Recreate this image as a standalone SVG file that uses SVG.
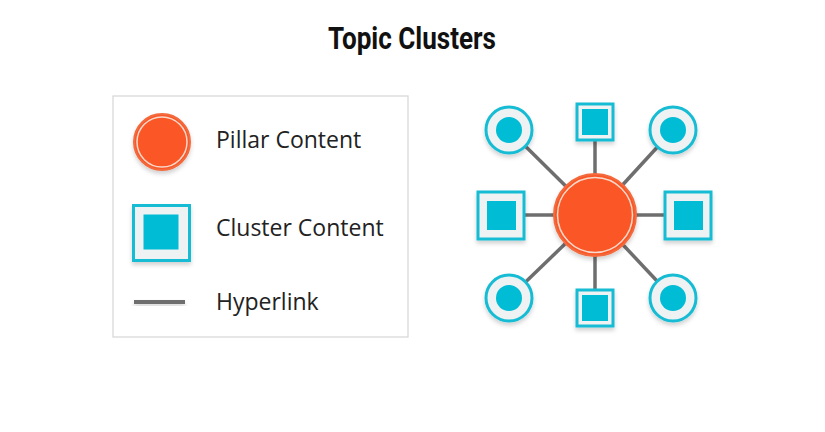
<svg xmlns="http://www.w3.org/2000/svg" width="825" height="432" viewBox="0 0 825 432">
<style>
.title{font-family:Roboto,"Liberation Sans",sans-serif;font-weight:bold;font-size:32px;fill:#111}
.lbl{font-family:"Open Sans","Noto Sans",sans-serif;font-size:23px;fill:#222}
.pillar{fill:#FA5726;stroke:#F26A3E;stroke-width:2}
.ring{fill:none;stroke:#F7D9CC;stroke-width:1.5}
.cout{fill:#EEF2F3;stroke:#18BCD3;stroke-width:3}
.cin{fill:#00BCD4}
.link{stroke:#6E6E6E;stroke-width:3.5}
</style>
<defs>
<filter id="sh" x="-30%" y="-30%" width="160%" height="170%">
<feDropShadow dx="0" dy="3" stdDeviation="2" flood-color="#000" flood-opacity="0.18"/>
</filter>
</defs>
<rect width="825" height="432" fill="#fff"/>
<text class="title" x="412" y="49" text-anchor="middle" textLength="168" lengthAdjust="spacingAndGlyphs">Topic Clusters</text>

<g id="legend">
<rect x="113" y="96" width="295" height="241" fill="#fff" stroke="#D6D6D6" stroke-width="1.2"/>
<g id="legend-pillar" filter="url(#sh)">
<circle class="pillar" cx="162" cy="142" r="28"/>
<circle class="ring" cx="162" cy="142" r="25"/>
</g>
<text class="lbl" x="216" y="148">Pillar Content</text>
<g id="legend-cluster" filter="url(#sh)">
<rect class="cout" x="133.5" y="205.5" width="56" height="55"/>
<rect class="cin" x="143.5" y="214.5" width="35" height="35"/>
</g>
<text class="lbl" x="216" y="236">Cluster Content</text>
<rect id="legend-link" x="134" y="300" width="51" height="4" fill="#6E6E6E" filter="url(#sh)"/>
<text class="lbl" x="216" y="310">Hyperlink</text>
</g>

<g id="connectors">
<line class="link" x1="595" y1="215" x2="509" y2="130"/>
<line class="link" x1="595" y1="215" x2="673" y2="130"/>
<line class="link" x1="595" y1="215" x2="509" y2="298"/>
<line class="link" x1="595" y1="215" x2="673" y2="298"/>
<line class="link" x1="595" y1="215" x2="595" y2="122"/>
<line class="link" x1="595" y1="215" x2="595" y2="308"/>
<line class="link" x1="595" y1="215" x2="501" y2="215"/>
<line class="link" x1="595" y1="215" x2="688" y2="215"/>
</g>

<g id="n-tl" filter="url(#sh)"><circle class="cout" cx="509" cy="130" r="23"/><circle class="cin" cx="509" cy="130" r="13"/></g>
<g id="n-tr" filter="url(#sh)"><circle class="cout" cx="673" cy="130" r="23"/><circle class="cin" cx="673" cy="130" r="13"/></g>
<g id="n-bl" filter="url(#sh)"><circle class="cout" cx="509" cy="298" r="23"/><circle class="cin" cx="509" cy="298" r="13"/></g>
<g id="n-br" filter="url(#sh)"><circle class="cout" cx="673" cy="298" r="23"/><circle class="cin" cx="673" cy="298" r="13"/></g>
<g id="n-top" filter="url(#sh)"><rect class="cout" x="577" y="104" width="36" height="36"/><rect class="cin" x="582" y="109" width="26" height="26"/></g>
<g id="n-bottom" filter="url(#sh)"><rect class="cout" x="577" y="290" width="36" height="36"/><rect class="cin" x="582" y="295" width="26" height="26"/></g>
<g id="n-left" filter="url(#sh)"><rect class="cout" x="478" y="192" width="46" height="47"/><rect class="cin" x="487" y="201" width="29" height="29"/></g>
<g id="n-right" filter="url(#sh)"><rect class="cout" x="665" y="192" width="46" height="47"/><rect class="cin" x="674" y="201" width="29" height="29"/></g>
<g id="pillar" filter="url(#sh)">
<circle class="pillar" cx="595" cy="215" r="41"/>
<circle class="ring" cx="595" cy="215" r="37.5"/>
</g>
</svg>
